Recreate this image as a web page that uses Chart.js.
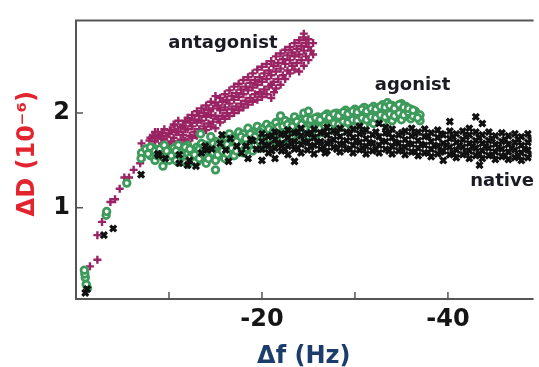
<!DOCTYPE html>
<html><head><meta charset="utf-8">
<script src="https://cdn.jsdelivr.net/npm/chart.js@4/dist/chart.umd.min.js"></script>
<style>html,body{margin:0;padding:0;background:#fff;}canvas{display:block;}</style>
</head><body>
<canvas id="c" width="539" height="367"></canvas>
<script>
// Δf (Hz), ΔD (1e-6) pairs
const antagonist = [
[-1.0,0.27],[-1.5,0.38],[-2.3,0.45],[-2.3,0.71],[-2.8,0.85],[-3.7,1.06],[-4.2,1.09],[-4.7,1.20],[-5.2,1.32],[-5.7,1.32],[-6.2,1.40],[-6.9,1.47],[-7.05,1.51],[-7.05,1.68],[-7.9,1.71],[-8.1,1.58],[-8.8,1.59],[-8.8,1.80],[-9.2,1.73],[-10.1,1.82],[-10.6,1.87],
[-8.0,1.62],[-8.0,1.74],[-8.5,1.58],[-8.5,1.70],[-8.5,1.80],[-9.0,1.64],[-9.0,1.76],[-9.5,1.60],[-9.5,1.72],[-9.5,1.83],
[-10.0,1.66],[-10.0,1.78],[-10.5,1.62],[-10.5,1.74],[-10.5,1.88],[-11.0,1.68],[-11.0,1.80],[-11.0,1.92],[-11.5,1.65],[-11.5,1.77],[-11.5,1.87],
[-12.0,1.70],[-12.0,1.83],[-12.0,1.95],[-12.5,1.74],[-12.5,1.86],[-12.5,1.98],[-13.0,1.76],[-13.0,1.90],[-13.0,2.02],[-13.5,1.80],[-13.5,1.92],[-13.5,2.05],
[-14.0,1.82],[-14.0,1.96],[-14.0,2.08],[-14.5,1.86],[-14.5,1.98],[-14.5,2.12],[-15.0,1.84],[-15.0,1.97],[-15.0,2.11],[-15.0,2.18],[-15.5,1.90],[-15.5,2.03],[-15.5,2.16],
[-16.0,1.94],[-16.0,2.06],[-16.0,2.20],[-16.5,1.97],[-16.5,2.10],[-16.5,2.24],[-17.0,2.00],[-17.0,2.14],[-17.0,2.28],[-17.5,2.03],[-17.5,2.17],[-17.5,2.31],
[-18.0,2.06],[-18.0,2.20],[-18.0,2.35],[-18.5,2.09],[-18.5,2.24],[-18.5,2.38],[-19.0,2.12],[-19.0,2.27],[-19.0,2.42],[-19.5,2.14],[-19.5,2.30],[-19.5,2.46],
[-20.0,2.17],[-20.0,2.33],[-20.0,2.49],[-20.5,2.20],[-20.5,2.36],[-20.5,2.52],[-21.0,2.16],[-21.0,2.30],[-21.0,2.40],[-21.0,2.55],[-21.3,2.22],[-21.5,2.26],[-21.5,2.44],[-21.5,2.60],
[-22.0,2.30],[-22.0,2.47],[-22.0,2.63],[-22.5,2.36],[-22.5,2.52],[-22.5,2.67],[-23.0,2.42],[-23.0,2.56],[-23.0,2.70],[-23.5,2.46],[-23.5,2.60],[-23.5,2.74],
[-24.0,2.44],[-24.0,2.62],[-24.0,2.77],[-24.5,2.50],[-24.5,2.66],[-24.5,2.80],[-24.5,2.84],[-25.0,2.56],[-25.0,2.70],[-25.0,2.78],[-25.5,2.62],[-25.5,2.74],
[-8.25,1.64],[-8.25,1.76],[-8.75,1.62],[-8.75,1.74],[-9.25,1.68],[-9.25,1.79],[-9.75,1.64],[-9.75,1.76],[-10.25,1.70],[-10.25,1.82],[-10.75,1.67],[-10.75,1.80],
[-11.25,1.72],[-11.25,1.85],[-11.75,1.71],[-11.75,1.83],[-11.75,1.92],[-12.25,1.76],[-12.25,1.90],[-12.75,1.80],[-12.75,1.93],[-13.25,1.83],[-13.25,1.97],
[-13.75,1.86],[-13.75,2.00],[-14.25,1.89],[-14.25,2.03],[-14.75,1.91],[-14.75,2.05],[-15.25,1.94],[-15.25,2.08],[-15.75,1.97],[-15.75,2.12],[-16.25,2.00],[-16.25,2.14],
[-16.75,2.04],[-16.75,2.18],[-17.25,2.07],[-17.25,2.21],[-17.75,2.10],[-17.75,2.25],[-18.25,2.13],[-18.25,2.28],[-18.75,2.16],[-18.75,2.32],[-19.25,2.20],[-19.25,2.35],
[-19.75,2.22],[-19.75,2.38],[-20.25,2.25],[-20.25,2.42],[-20.75,2.28],[-20.75,2.45],[-21.25,2.33],[-21.25,2.50],[-21.75,2.36],[-21.75,2.53],[-22.25,2.40],[-22.25,2.57],
[-22.75,2.45],[-22.75,2.61],[-23.25,2.50],[-23.25,2.64],[-23.75,2.53],[-23.75,2.68],[-24.25,2.56],[-24.25,2.71],[-24.75,2.60],[-24.75,2.74],[-25.25,2.66]
];
const agonist = [
[-1.23,0.15],[-1.1,0.19],[-1.0,0.26],[-0.95,0.30],[-0.9,0.34],[-3.24,0.92],[-3.3,0.96],[-5.46,1.26],[-7.05,1.58],[-8.3,1.63],[-9.35,1.44],
[-7.0,1.52],[-7.5,1.62],[-8.0,1.55],[-8.0,1.64],[-8.5,1.50],[-8.5,1.60],[-9.0,1.62],[-9.0,1.56],[-9.5,1.52],[-9.5,1.66],
[-10.0,1.58],[-10.0,1.50],[-10.5,1.63],[-10.5,1.54],[-11.0,1.48],[-11.0,1.58],[-11.0,1.66],[-11.5,1.53],[-11.5,1.61],
[-12.0,1.46],[-12.0,1.57],[-12.0,1.66],[-12.5,1.51],[-12.5,1.60],[-13.0,1.48],[-13.0,1.56],[-13.0,1.64],[-13.4,1.78],[-13.5,1.52],[-13.5,1.60],[-13.5,1.68],
[-14.0,1.47],[-14.0,1.58],[-14.0,1.66],[-14.5,1.54],[-14.5,1.63],[-14.5,1.75],[-15.0,1.40],[-15.0,1.50],[-15.0,1.60],[-15.0,1.70],[-15.5,1.55],[-15.5,1.64],
[-16.0,1.52],[-16.0,1.62],[-16.0,1.72],[-16.5,1.58],[-16.5,1.68],[-16.5,1.78],[-17.0,1.55],[-17.0,1.64],[-17.0,1.74],[-17.5,1.60],[-17.5,1.70],[-17.5,1.80],
[-18.0,1.58],[-18.0,1.67],[-18.0,1.78],[-18.5,1.62],[-18.5,1.72],[-18.5,1.84],[-19.0,1.60],[-19.0,1.70],[-19.0,1.80],[-19.5,1.65],[-19.5,1.76],[-19.5,1.86],
[-20.0,1.63],[-20.0,1.73],[-20.0,1.83],[-20.5,1.68],[-20.5,1.78],[-20.5,1.88],[-21.0,1.66],[-21.0,1.76],[-21.0,1.86],[-21.5,1.70],[-21.5,1.80],[-21.5,1.90],
[-22.0,1.68],[-22.0,1.78],[-22.0,1.97],[-22.5,1.72],[-22.5,1.84],[-22.5,1.92],[-23.0,1.70],[-23.0,1.80],[-23.0,1.90],[-23.5,1.75],[-23.5,1.86],[-23.5,1.96],
[-24.0,1.73],[-24.0,1.83],[-24.0,1.93],[-24.5,1.78],[-24.5,1.88],[-24.5,2.00],[-25.0,1.76],[-25.0,1.86],[-25.0,2.02],[-25.5,1.80],[-25.5,1.90],
[-26.0,1.78],[-26.0,1.88],[-26.0,1.96],[-26.5,1.82],[-26.5,1.92],[-27.0,1.80],[-27.0,1.90],[-27.0,1.99],[-27.5,1.84],[-27.5,1.94],
[-28.0,1.82],[-28.0,1.92],[-28.0,2.00],[-28.5,1.86],[-28.5,1.96],[-29.0,1.84],[-29.0,1.94],[-29.0,2.03],[-29.5,1.88],[-29.5,1.98],
[-30.0,1.86],[-30.0,1.96],[-30.0,2.04],[-30.5,1.90],[-30.5,2.00],[-31.0,1.87],[-31.0,1.97],[-31.0,2.06],[-31.5,1.92],[-31.5,2.02],
[-32.0,1.89],[-32.0,1.99],[-32.0,2.07],[-32.5,1.93],[-32.5,2.03],[-33.0,1.90],[-33.0,2.00],[-33.0,2.09],[-33.5,1.95],[-33.5,2.05],[-33.5,2.11],
[-34.0,1.92],[-34.0,2.02],[-34.0,2.08],[-34.5,1.96],[-34.5,2.06],[-35.0,1.93],[-35.0,2.03],[-35.0,2.10],[-35.5,1.97],[-35.5,2.07],
[-36.0,1.94],[-36.0,2.04],[-36.5,1.98],[-36.5,2.02],[-37.0,1.92],[-37.0,1.98],
[-7.75,1.57],[-8.75,1.55],[-9.75,1.60],[-10.25,1.55],[-10.75,1.50],[-10.75,1.60],[-11.25,1.56],[-11.75,1.48],[-11.75,1.64],[-12.25,1.53],[-12.25,1.62],
[-12.75,1.56],[-12.75,1.48],[-13.25,1.52],[-13.25,1.62],[-13.75,1.56],[-13.75,1.64],[-14.25,1.52],[-14.25,1.61],[-14.75,1.58],[-14.75,1.68],[-15.25,1.56],[-15.25,1.66],
[-15.75,1.60],[-15.75,1.69],[-16.25,1.57],[-16.25,1.67],[-16.75,1.63],[-16.75,1.73],[-17.25,1.60],[-17.25,1.70],[-17.75,1.65],[-17.75,1.75],[-18.25,1.63],[-18.25,1.73],
[-18.75,1.67],[-18.75,1.78],[-19.25,1.66],[-19.25,1.75],[-19.75,1.70],[-19.75,1.80],[-20.25,1.68],[-20.25,1.78],[-20.75,1.73],[-20.75,1.83],[-21.25,1.71],[-21.25,1.81],
[-21.75,1.75],[-21.75,1.85],[-22.25,1.73],[-22.25,1.86],[-22.75,1.78],[-22.75,1.88],[-23.25,1.76],[-23.25,1.86],[-23.75,1.80],[-23.75,1.91],[-24.25,1.78],[-24.25,1.88],
[-24.75,1.83],[-24.75,1.94],[-25.25,1.82],[-25.25,1.93],[-25.75,1.85],[-25.75,1.95],[-26.25,1.84],[-26.25,1.93],[-26.75,1.87],[-26.75,1.97],[-27.25,1.86],[-27.25,1.95],
[-27.75,1.89],[-27.75,1.99],[-28.25,1.88],[-28.25,1.97],[-28.75,1.91],[-28.75,2.01],[-29.25,1.90],[-29.25,1.99],[-29.75,1.93],[-29.75,2.02],[-30.25,1.92],[-30.25,2.01],
[-30.75,1.95],[-30.75,2.04],[-31.25,1.93],[-31.25,2.02],[-31.75,1.96],[-31.75,2.05],[-32.25,1.95],[-32.25,2.04],[-32.75,1.98],[-32.75,2.07],[-33.25,1.96],[-33.25,2.06],
[-33.75,1.99],[-33.75,2.08],[-34.25,1.97],[-34.25,2.05],[-34.75,2.00],[-34.75,2.09],[-35.25,1.98],[-35.25,2.06],[-35.75,2.01],[-35.75,2.05],[-36.25,1.97],[-36.25,2.03],[-36.75,1.95]
];
const native = [
[-1.0,0.10],[-1.2,0.14],[-3.0,0.71],[-4.0,0.78],[-7.0,1.35],[-8.9,1.55],[-8.8,1.57],
[-9.6,1.52],[-11.1,1.56],[-11.1,1.47],[-12.0,1.45],[-12.2,1.50],[-12.9,1.44],[-13.5,1.58],[-13.9,1.65],[-14.1,1.61],[-14.6,1.62],[-15.5,1.68],[-15.7,1.77],
[-16.1,1.61],[-16.4,1.49],[-16.6,1.73],[-17.3,1.65],[-17.8,1.58],[-18.3,1.65],[-18.5,1.52],[-18.8,1.72],[-19.0,1.71],[-19.4,1.62],
[-20.0,1.50],[-20.0,1.62],[-20.0,1.70],[-20.0,1.78],[-20.7,1.58],[-20.7,1.66],[-20.7,1.75],[-21.4,1.52],[-21.4,1.63],[-21.4,1.72],[-21.4,1.80],
[-22.1,1.60],[-22.1,1.68],[-22.1,1.78],[-22.8,1.56],[-22.8,1.65],[-22.8,1.74],[-22.8,1.82],[-23.5,1.49],[-23.5,1.62],[-23.5,1.70],[-23.5,1.79],
[-24.2,1.58],[-24.2,1.67],[-24.2,1.76],[-24.2,1.84],[-24.9,1.61],[-24.9,1.69],[-24.9,1.78],[-25.6,1.57],[-25.6,1.66],[-25.6,1.74],[-25.6,1.83],
[-26.3,1.62],[-26.3,1.70],[-26.3,1.79],[-26.8,1.58],[-27.0,1.60],[-27.0,1.68],[-27.0,1.77],[-27.0,1.85],[-27.7,1.64],[-27.7,1.72],[-27.7,1.81],
[-28.4,1.59],[-28.4,1.67],[-28.4,1.75],[-28.4,1.84],[-29.1,1.62],[-29.1,1.71],[-29.1,1.80],[-29.8,1.58],[-29.8,1.66],[-29.8,1.74],[-29.8,1.83],
[-30.5,1.61],[-30.5,1.69],[-30.5,1.78],[-30.5,1.86],[-31.2,1.57],[-31.2,1.65],[-31.2,1.73],[-31.2,1.82],[-31.9,1.60],[-31.9,1.68],[-31.9,1.77],
[-32.6,1.58],[-32.6,1.66],[-32.6,1.75],[-32.6,1.89],[-33.3,1.62],[-33.3,1.70],[-33.3,1.79],[-33.3,1.85],[-34.0,1.57],[-34.0,1.65],[-34.0,1.74],[-34.0,1.83],
[-34.7,1.60],[-34.7,1.68],[-34.7,1.77],[-35.4,1.56],[-35.4,1.64],[-35.4,1.72],[-35.4,1.81],[-36.1,1.59],[-36.1,1.67],[-36.1,1.76],[-36.1,1.84],
[-36.8,1.55],[-36.8,1.63],[-36.8,1.71],[-36.8,1.80],[-37.5,1.58],[-37.5,1.66],[-37.5,1.75],[-37.5,1.83],[-38.2,1.54],[-38.2,1.62],[-38.2,1.70],[-38.2,1.79],
[-38.9,1.57],[-38.9,1.65],[-38.9,1.74],[-38.9,1.82],[-39.5,1.50],[-39.5,1.60],[-39.5,1.68],[-39.5,1.77],[-40.2,1.56],[-40.2,1.64],[-40.2,1.73],[-40.2,1.81],[-40.2,1.91],
[-40.9,1.53],[-40.9,1.61],[-40.9,1.69],[-40.9,1.78],[-41.6,1.56],[-41.6,1.64],[-41.6,1.72],[-41.6,1.81],[-42.3,1.52],[-42.3,1.60],[-42.3,1.68],[-42.3,1.77],[-42.3,1.84],
[-43.0,1.55],[-43.0,1.63],[-43.0,1.71],[-43.0,1.80],[-43.0,1.96],[-43.4,1.45],[-43.7,1.52],[-43.7,1.60],[-43.7,1.68],[-43.7,1.77],[-43.7,1.89],
[-44.4,1.55],[-44.4,1.63],[-44.4,1.71],[-44.4,1.80],[-45.1,1.51],[-45.1,1.59],[-45.1,1.67],[-45.1,1.76],[-45.8,1.54],[-45.8,1.62],[-45.8,1.70],[-45.8,1.79],
[-46.5,1.51],[-46.5,1.59],[-46.5,1.67],[-46.5,1.76],[-47.2,1.53],[-47.2,1.61],[-47.2,1.69],[-47.2,1.78],[-47.9,1.50],[-47.9,1.58],[-47.9,1.66],[-47.9,1.75],
[-48.6,1.53],[-48.6,1.61],[-48.6,1.69],[-48.6,1.78],
[-20.35,1.66],[-21.05,1.60],[-21.05,1.76],[-21.75,1.67],[-22.45,1.62],[-22.45,1.77],[-23.15,1.68],[-23.85,1.63],[-23.85,1.80],[-24.55,1.70],[-25.25,1.64],[-25.25,1.79],
[-25.95,1.69],[-26.65,1.64],[-26.65,1.80],[-27.35,1.70],[-28.05,1.62],[-28.05,1.79],[-28.75,1.68],[-29.45,1.62],[-29.45,1.78],[-30.15,1.71],[-30.85,1.63],[-30.85,1.80],
[-31.55,1.69],[-32.25,1.62],[-32.25,1.80],[-32.95,1.70],[-33.65,1.60],[-33.65,1.78],[-34.35,1.69],[-35.05,1.62],[-35.05,1.79],[-35.75,1.68],[-36.45,1.59],[-36.45,1.78],
[-37.15,1.67],[-37.85,1.58],[-37.85,1.76],[-38.55,1.66],[-39.25,1.59],[-39.25,1.78],[-39.85,1.66],[-40.55,1.58],[-40.55,1.75],[-41.25,1.66],[-41.95,1.58],[-41.95,1.75],
[-42.65,1.65],[-43.35,1.57],[-43.35,1.74],[-44.05,1.65],[-44.75,1.56],[-44.75,1.73],[-45.45,1.64],[-46.15,1.55],[-46.15,1.72],[-46.85,1.63],[-47.55,1.55],[-47.55,1.72],
[-48.25,1.62],[-48.9,1.56],[-48.9,1.72]
];
const xTickValues = [-10, -20, -30, -40];
const xTickLabelled = [-20, -40];
const yTickValues = [1, 2];
const seriesNames = ['antagonist', 'agonist', 'native'];
const annotations = [
  {text: 'antagonist', x: -15.8, y: 2.74, align: 'center'},
  {text: 'agonist', x: -36.2, y: 2.29, align: 'center'},
  {text: 'native', x: -42.4, y: 1.28, align: 'left'}
];

const toXY = arr => arr.map(p => ({x: p[0], y: p[1]}));
const FONT = '"DejaVu Sans", Arial, sans-serif';

const framePlugin = {
  id: 'frame',
  afterDraw(chart) {
    const {ctx, chartArea: {left, right, top, bottom}, scales: {x, y}} = chart;
    ctx.save();
    ctx.strokeStyle = '#555';
    ctx.lineWidth = 2;
    ctx.beginPath();
    ctx.moveTo(right + 2, top); ctx.lineTo(left, top); ctx.lineTo(left, bottom); ctx.lineTo(right + 2, bottom);
    ctx.stroke();
    ctx.lineWidth = 1.5;
    ctx.beginPath();
    xTickValues.forEach(v => { const px = x.getPixelForValue(v); ctx.moveTo(px, bottom); ctx.lineTo(px, bottom - 7); });
    yTickValues.forEach(v => { const py = y.getPixelForValue(v); ctx.moveTo(left, py); ctx.lineTo(left + 7, py); });
    ctx.stroke();
    ctx.font = 'bold 18px ' + FONT;
    ctx.fillStyle = '#1b1b24';
    ctx.textBaseline = 'middle';
    annotations.forEach(a => {
      ctx.textAlign = a.align;
      ctx.fillText(a.text, x.getPixelForValue(a.x), y.getPixelForValue(a.y));
    });
    ctx.restore();
  }
};

new Chart(document.getElementById('c'), {
  type: 'scatter',
  data: {
    datasets: [
      {label: seriesNames[0], data: toXY(antagonist), pointStyle: 'cross', pointRadius: 4, borderWidth: 2.4, borderColor: '#9a2364', backgroundColor: '#9a2364', order: 2},
      {label: seriesNames[1], data: toXY(agonist), pointStyle: 'circle', pointRadius: 3.3, borderWidth: 2.8, borderColor: '#3d9a5b', backgroundColor: '#ffffff', order: 1},
      {label: seriesNames[2], data: toXY(native), pointStyle: 'crossRot', pointRadius: 4.2, borderWidth: 3.2, borderColor: '#111111', backgroundColor: '#111111', order: 0}
    ]
  },
  options: {
    responsive: false,
    animation: false,
    devicePixelRatio: 1,
    layout: {padding: {top: 14, right: 0, left: 0, bottom: 0}},
    plugins: {legend: {display: false}, tooltip: {enabled: false}},
    scales: {
      x: {
        type: 'linear', min: -49, max: 0, reverse: true,
        grid: {display: false, drawTicks: false},
        border: {display: false},
        afterBuildTicks: s => { s.ticks = xTickValues.map(v => ({value: v})); },
        afterFit: s => { s.height = 68; },
        ticks: {
          padding: 6, color: '#151515', maxRotation: 0, autoSkip: false,
          font: {family: FONT, size: 24, weight: 'bold'},
          callback: v => xTickLabelled.includes(v) ? String(v) : ''
        },
        title: {display: true, text: 'Δf (Hz)', color: '#1c3d6c', padding: {top: 0, bottom: 0},
          font: {family: FONT, size: 24, weight: 'bold', lineHeight: 0.85}}
      },
      y: {
        type: 'linear', min: 0.035, max: 2.98,
        grid: {display: false, drawTicks: false},
        border: {display: false},
        afterBuildTicks: s => { s.ticks = yTickValues.map(v => ({value: v})); },
        afterFit: s => { s.width = 76; },
        ticks: {
          padding: 6, color: '#151515',
          font: {family: FONT, size: 24, weight: 'bold'},
          callback: v => String(v)
        },
        title: {display: true, text: '\u2002ΔD (10⁻⁶)', color: '#e2242e', padding: {top: 16, bottom: 0},
          font: {family: FONT, size: 24, weight: 'bold', lineHeight: 1}}
      }
    }
  },
  plugins: [framePlugin]
});
</script>
</body></html>
